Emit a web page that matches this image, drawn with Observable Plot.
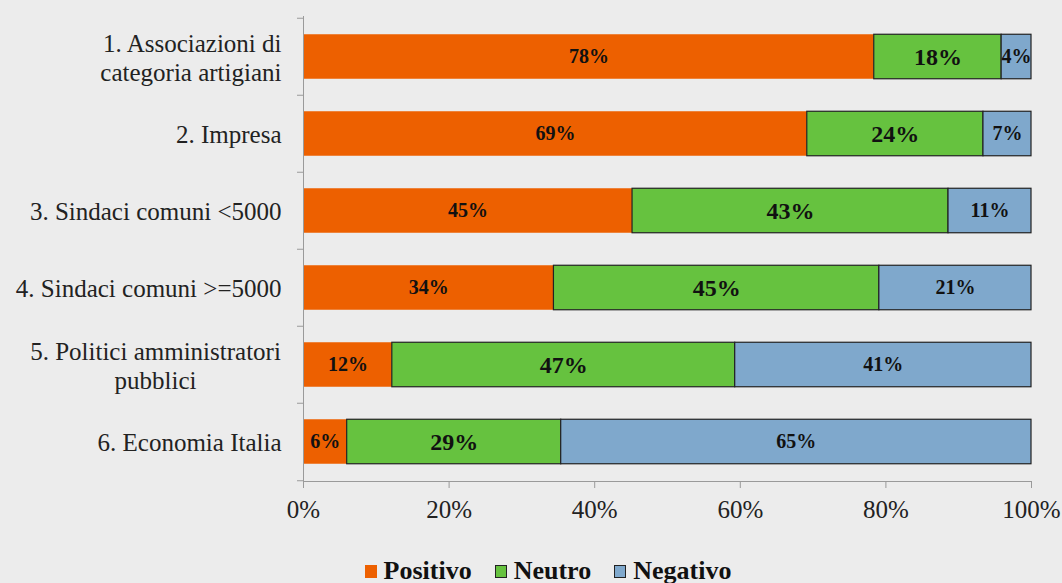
<!DOCTYPE html>
<html>
<head>
<meta charset="utf-8">
<script src="https://cdn.jsdelivr.net/npm/d3@7"></script>
<script src="https://cdn.jsdelivr.net/npm/@observablehq/plot@0.6"></script>
<style>
  html, body { margin: 0; padding: 0; background: #ececec; }
  #chart { width: 1062px; height: 583px; background: #ececec; font-family: "Liberation Serif", serif; }
  #chart svg, #chart svg text { font-family: "Liberation Serif", serif; }
  #legend { display: flex; justify-content: center; align-items: center; gap: 23px; height: 30px; padding-left: 34px;
            font-family: "Liberation Serif", serif; font-weight: bold; font-size: 26px; color: #111; }
  #legend .item { display: flex; align-items: center; }
  #legend .sw { width: 12px; height: 13px; margin-right: 7px; box-sizing: border-box; }
</style>
</head>
<body>
<div id="chart"></div>
<script>
const categories = [
  "1. Associazioni di\ncategoria artigiani",
  "2. Impresa",
  "3. Sindaci comuni <5000",
  "4. Sindaci comuni >=5000",
  "5. Politici amministratori\npubblici",
  "6. Economia Italia"
];
const seriesNames = ["Positivo", "Neutro", "Negativo"];
const seriesColors = ["#ed6000", "#66c23f", "#7fa8cc"];
const seriesStroke = ["none", "#222", "#222"];
const positivo = [78.4, 69.2, 45.2, 34.4, 12.2, 6.0];
const neutro   = [17.5, 24.2, 43.4, 44.7, 47.1, 29.4];
const negativo = [4.1, 6.6, 11.4, 20.9, 40.7, 64.6];
const xTicks = [0, 20, 40, 60, 80, 100];

const seriesValues = [positivo, neutro, negativo];
const data = [];
categories.forEach((c, i) => {
  seriesNames.forEach((s, j) => data.push({cat: c, series: s, value: seriesValues[j][i]}));
});

const width = 1062, height = 556;
const marginTop = 16, marginBottom = 75, marginLeft = 303, marginRight = 31;
const step = (height - marginTop - marginBottom) / categories.length;
const barH = 45;
const inset = (step - barH) / 2;
const singleLine = categories.filter(c => !c.includes("\n") || c.startsWith("1."));
const centered = categories.filter(c => c.includes("\n") && !c.startsWith("1."));
const font = "Liberation Serif, serif";

const chart = Plot.plot({
  width, height, marginTop, marginBottom, marginLeft, marginRight,
  style: {background: "#ececec", fontFamily: font},
  x: {domain: [0, 100]},
  y: {domain: categories, padding: 0},
  color: {domain: seriesNames, range: seriesColors},
  marks: [
    Plot.barX(data, Plot.stackX({
      x: "value", y: "cat", z: "series", fill: "series",
      stroke: d => seriesStroke[seriesNames.indexOf(d.series)],
      strokeWidth: 1.2, insetTop: inset, insetBottom: inset
    })),
    Plot.text(data, Plot.stackX({
      x: "value", y: "cat", z: "series",
      text: d => Math.round(d.value) + "%",
      fontSize: d => d.series === "Neutro" ? 24 : 20,
      fontWeight: "bold", fill: "#111", fontFamily: font
    })),
    Plot.frame({anchor: "left", stroke: "#9a9a9a"}),
    Plot.frame({anchor: "bottom", stroke: "#9a9a9a"}),
    Plot.ruleY(categories, {y: d => d, dy: -step / 2, x1: -6 / 7.28, x2: 0, stroke: "#9a9a9a", clip: false}),
    Plot.ruleY(categories.slice(-1), {y: d => d, dy: step / 2, x1: -6 / 7.28, x2: 0, stroke: "#9a9a9a", clip: false}),
    Plot.axisX({ticks: xTicks, tickFormat: d => d + "%", tickSize: 7, tickPadding: 12,
      fontSize: 25, fontFamily: font, stroke: "#9a9a9a", fill: "#222", label: null}),
    Plot.axisY({ticks: singleLine, tickSize: 0, tickPadding: 22, fontSize: 25, fontFamily: font, fill: "#222",
      lineHeight: 1.16, label: null}),
    Plot.axisY({ticks: centered, tickSize: 0, tickPadding: 22, fontSize: 25, fontFamily: font, fill: "#222",
      lineHeight: 1.16, textAnchor: "middle", dx: -126, label: null})
  ]
});
const root = document.getElementById("chart");
root.appendChild(chart);

const legend = document.createElement("div");
legend.id = "legend";
seriesNames.forEach((s, j) => {
  const item = document.createElement("div");
  item.className = "item";
  const sw = document.createElement("span");
  sw.className = "sw";
  sw.style.background = seriesColors[j];
  if (seriesStroke[j] !== "none") sw.style.border = "1px solid " + seriesStroke[j];
  const t = document.createElement("span");
  t.textContent = s;
  item.appendChild(sw); item.appendChild(t);
  legend.appendChild(item);
});
root.appendChild(legend);
</script>
</body>
</html>
